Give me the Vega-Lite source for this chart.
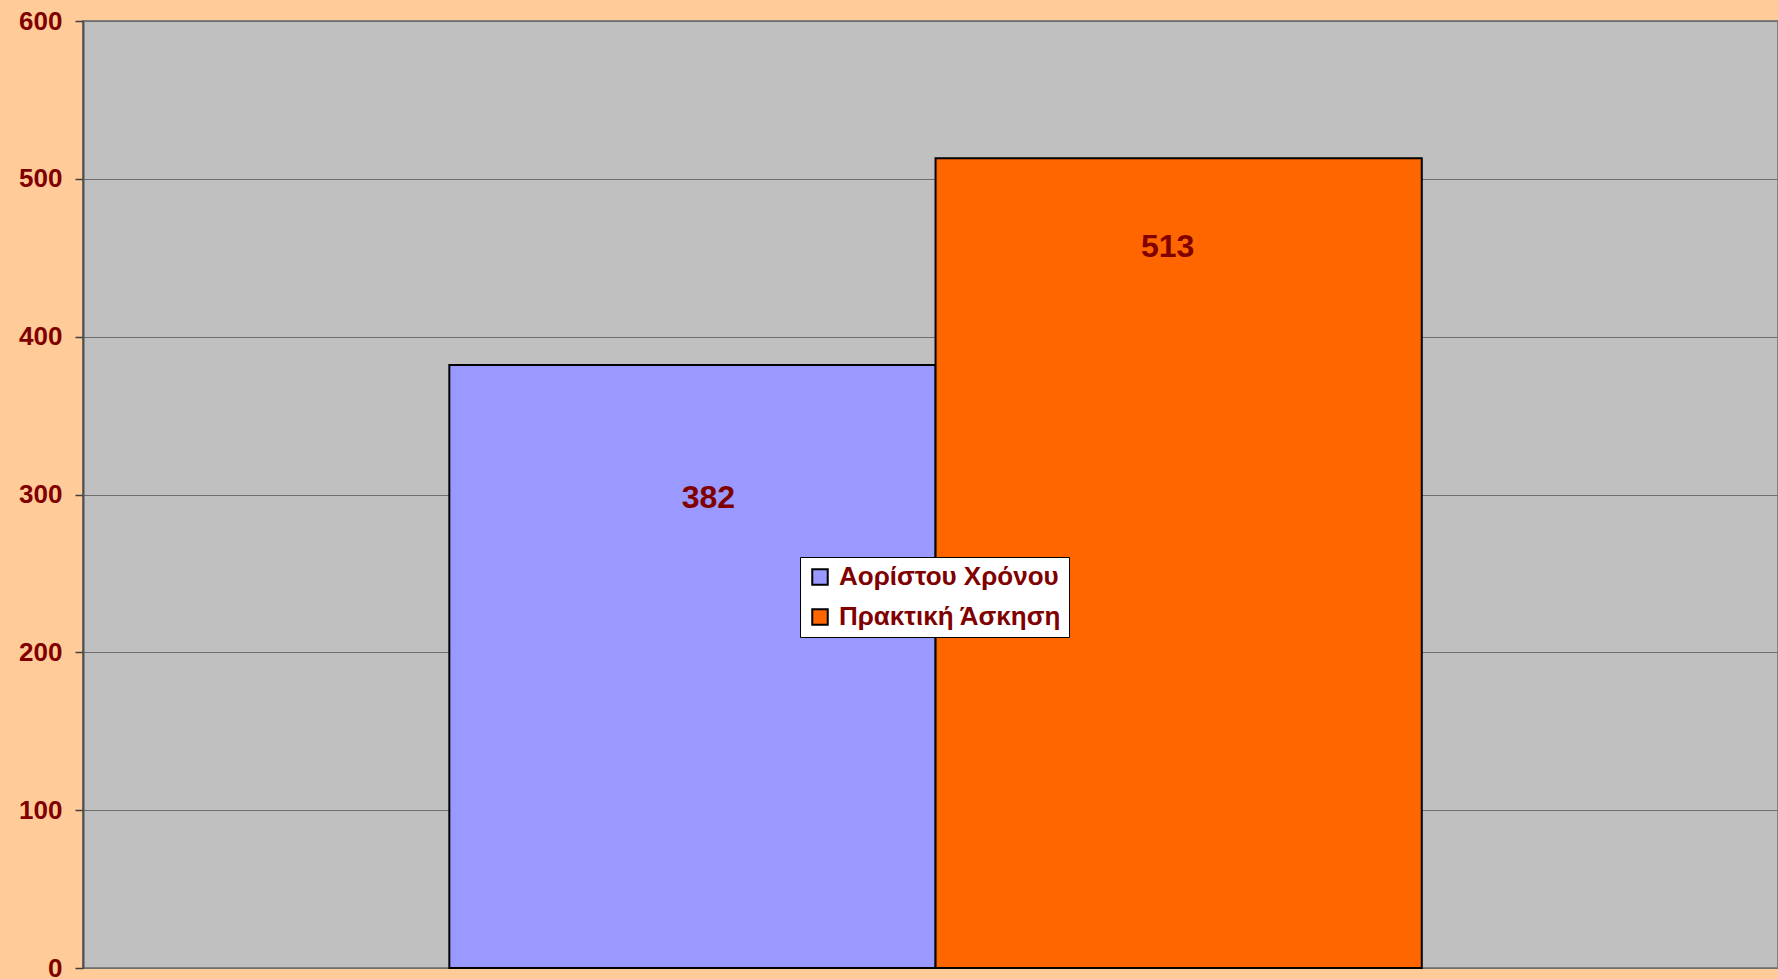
{
  "$schema": "https://vega.github.io/schema/vega-lite/v6.json",
  "width": 1695,
  "height": 947,
  "autosize": {"type": "none"},
  "padding": {"left": 83, "top": 21, "right": 0, "bottom": 11},
  "background": "#FFCC99",
  "config": {
    "view": {"fill": "#C0C0C0", "stroke": "#808080", "strokeWidth": 2},
    "font": "Liberation Sans"
  },
  "data": {
    "values": [
      {"series": "Αορίστου Χρόνου", "value": 382},
      {"series": "Πρακτική Άσκηση", "value": 513}
    ]
  },
  "encoding": {
    "x": {
      "field": "series",
      "type": "nominal",
      "sort": null,
      "axis": null,
      "scale": {"paddingInner": 0, "paddingOuter": 0.743, "align": 0.507}
    },
    "y": {
      "field": "value",
      "type": "quantitative",
      "scale": {"domain": [0, 600], "nice": false},
      "axis": {
        "title": null,
        "values": [0, 100, 200, 300, 400, 500, 600],
        "grid": true,
        "gridColor": "#6E6E6E",
        "gridWidth": 1,
        "gridOpacity": 1,
        "domainColor": "#505050",
        "domainWidth": 2,
        "tickColor": "#404040",
        "tickSize": 8,
        "tickWidth": 1.5,
        "labelPadding": 13,
        "labelFont": "Liberation Sans",
        "labelFontWeight": "bold",
        "labelFontSize": 26,
        "labelColor": "#800000",
        "labelBaseline": "middle"
      }
    }
  },
  "layer": [
    {
      "mark": {"type": "bar", "stroke": "#000000", "strokeWidth": 2},
      "encoding": {
        "color": {
          "field": "series",
          "type": "nominal",
          "sort": null,
          "scale": {"domain": ["Αορίστου Χρόνου", "Πρακτική Άσκηση"], "range": ["#9999FF", "#FF6600"]},
          "legend": {
            "title": null,
            "orient": "none",
            "legendX": 717,
            "legendY": 536,
            "fillColor": "#FFFFFF",
            "strokeColor": "#000000",
            "padding": 7,
            "symbolType": "square",
            "symbolSize": 240,
            "symbolStrokeColor": "#000000",
            "symbolStrokeWidth": 2,
            "symbolOpacity": 1,
            "labelFont": "Liberation Sans",
            "labelFontWeight": "bold",
            "labelFontSize": 26,
            "labelColor": "#800000",
            "labelOffset": 6,
            "rowPadding": 14,
            "labelLimit": 400
          }
        }
      }
    },
    {
      "transform": [{"filter": "datum.series === 'Αορίστου Χρόνου'"}],
      "mark": {"type": "text", "dy": 133, "dx": 16, "baseline": "middle", "align": "center", "font": "Liberation Sans", "fontWeight": "bold", "fontSize": 32, "color": "#800000"},
      "encoding": {"text": {"field": "value", "type": "quantitative"}}
    },
    {
      "transform": [{"filter": "datum.series === 'Πρακτική Άσκηση'"}],
      "mark": {"type": "text", "dy": 89, "dx": -11, "baseline": "middle", "align": "center", "font": "Liberation Sans", "fontWeight": "bold", "fontSize": 32, "color": "#800000"},
      "encoding": {"text": {"field": "value", "type": "quantitative"}}
    }
  ]
}
